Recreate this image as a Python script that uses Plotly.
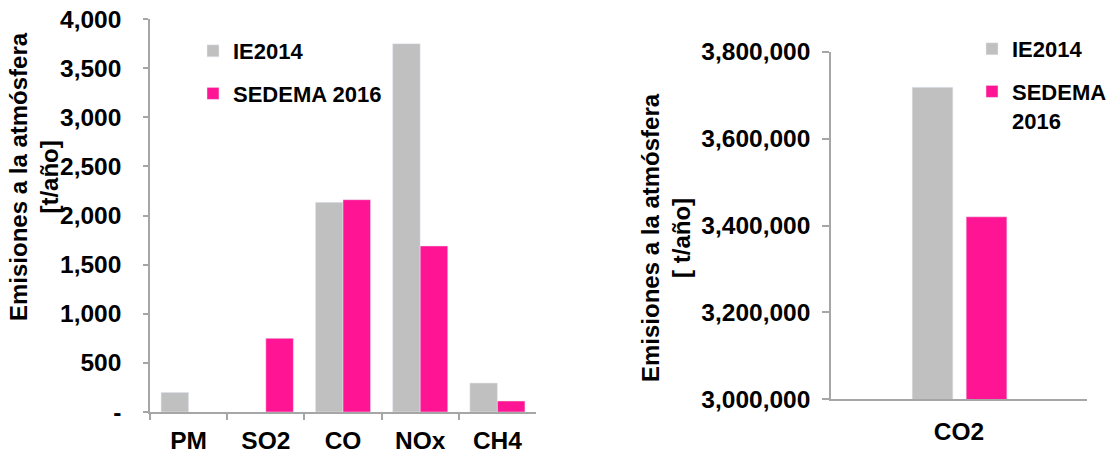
import plotly.graph_objects as go

# ---- data ----
pollutants = ["PM", "SO2", "CO", "NOx", "CH4"]
ie2014 = [200, None, 2134, 3749, 295]
sedema2016 = [None, 750, 2161, 1690, 112]

co2_category = ["CO2"]
co2_ie2014 = [3718000]
co2_sedema2016 = [3420000]

left_tickvals = [0, 500, 1000, 1500, 2000, 2500, 3000, 3500, 4000]
left_ticktext = ["-", "500", "1,000", "1,500", "2,000", "2,500", "3,000", "3,500", "4,000"]
right_tickvals = [3000000, 3200000, 3400000, 3600000, 3800000]
right_ticktext = ["3,000,000", "3,200,000", "3,400,000", "3,600,000", "3,800,000"]

series_names = ["IE2014", "SEDEMA 2016"]
right_series_names = ["IE2014", "SEDEMA<br>2016"]

# ---- style ----
W, H = 1107, 455
GRAY = "#C0C0C0"
PINK = "#FF1493"
AXIS = "#A6A6A6"
FONT = "Liberation Sans, Arial, sans-serif"


def px_x(p):
    return p / W


def px_y(p):
    return 1 - p / H


fig = go.Figure()

fig.add_trace(go.Bar(x=pollutants, y=ie2014, name=series_names[0], marker_color=GRAY,
                     xaxis="x", yaxis="y", legend="legend", legendgroup="a"))
fig.add_trace(go.Bar(x=pollutants, y=sedema2016, name=series_names[1], marker_color=PINK,
                     xaxis="x", yaxis="y", legend="legend", legendgroup="b"))

fig.add_trace(go.Bar(x=co2_category, y=co2_ie2014, name=right_series_names[0], marker_color=GRAY,
                     width=0.159, offset=-0.183,
                     xaxis="x2", yaxis="y2", legend="legend2", legendgroup="c"))
fig.add_trace(go.Bar(x=co2_category, y=co2_sedema2016, name=right_series_names[1], marker_color=PINK,
                     width=0.159, offset=0.028,
                     xaxis="x2", yaxis="y2", legend="legend2", legendgroup="d"))

ytickfont = dict(family=FONT, size=24.5, color="black", weight="bold")
xtickfont = dict(family=FONT, size=24.5, color="black", weight="bold")
legfont = dict(family=FONT, size=22, color="black", weight="bold")

fig.update_layout(
    width=W, height=H,
    margin=dict(l=0, r=0, t=0, b=0, autoexpand=False),
    paper_bgcolor="white", plot_bgcolor="white",
    barmode="group", bargap=0.286, bargroupgap=0,
    font=dict(family=FONT, color="black"),
    xaxis=dict(domain=[px_x(150), px_x(536)], range=[-0.5, 4.5], type="category", anchor="y",
               showline=True, linecolor=AXIS, linewidth=1.5,
               ticks="outside", tickson="boundaries", ticklen=6, tickcolor=AXIS, tickwidth=1.5,
               tickfont=xtickfont, ticklabelstandoff=6, showgrid=False, zeroline=False),
    yaxis=dict(domain=[px_y(412), px_y(19)], range=[0, 4000], anchor="x",
               tickvals=left_tickvals, ticktext=left_ticktext,
               showline=True, linecolor=AXIS, linewidth=1.5,
               ticks="outside", ticklen=5, tickcolor=AXIS, tickwidth=1.5,
               tickfont=ytickfont, ticklabelstandoff=17, showgrid=False, zeroline=False),
    xaxis2=dict(domain=[px_x(831), px_x(1087)], range=[-0.5, 0.5], type="category", anchor="y2",
                showline=True, linecolor=AXIS, linewidth=1.5, ticks="",
                tickfont=xtickfont, ticklabelstandoff=10, showgrid=False, zeroline=False),
    yaxis2=dict(domain=[px_y(399.3), px_y(51.7)], range=[3000000, 3800000], anchor="x2",
                tickvals=right_tickvals, ticktext=right_ticktext,
                showline=True, linecolor=AXIS, linewidth=1.5,
                ticks="outside", ticklen=7, tickcolor=AXIS, tickwidth=1.5,
                tickfont=ytickfont, ticklabelstandoff=7, showgrid=False, zeroline=False),
    legend=dict(x=px_x(193), y=px_y(30), xanchor="left", yanchor="top",
                font=legfont, bgcolor="rgba(0,0,0,0)", traceorder="grouped",
                tracegroupgap=11, valign="top"),
    legend2=dict(x=px_x(972), y=px_y(28), xanchor="left", yanchor="top",
                 font=legfont, bgcolor="rgba(0,0,0,0)", traceorder="grouped",
                 tracegroupgap=11, valign="top"),
    showlegend=True,
)

titlefont = dict(family=FONT, size=24, color="black", weight="bold")
fig.add_annotation(text="Emisiones a la atmósfera<br>[t/año]", textangle=-90,
                   x=px_x(34.5), y=px_y(176.5), xref="paper", yref="paper",
                   xanchor="center", yanchor="middle", showarrow=False, font=titlefont)
fig.add_annotation(text="Emisiones a la atmósfera<br>[ t/año]", textangle=-90,
                   x=px_x(665.5), y=px_y(237.5), xref="paper", yref="paper",
                   xanchor="center", yanchor="middle", showarrow=False, font=titlefont)

fig.write_html("out.html")
